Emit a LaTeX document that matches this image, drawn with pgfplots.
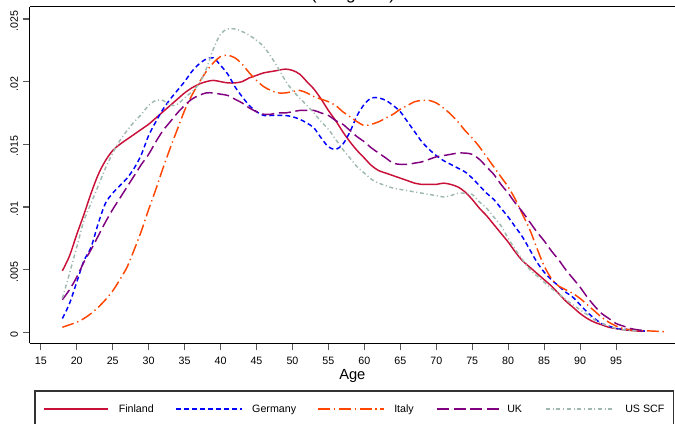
\documentclass[border=0pt]{standalone}
\usepackage{fontspec}
\setmainfont{Liberation Sans}
\usepackage{pgfplots}
\usepackage{pgfplotstable}
\pgfplotsset{compat=1.18}
\definecolor{cFin}{RGB}{200,16,56}
\definecolor{cGer}{RGB}{0,0,255}
\definecolor{cIta}{RGB}{255,69,0}
\definecolor{cUK}{RGB}{128,0,128}
\definecolor{cUS}{RGB}{160,185,175}

\pgfplotstableread{
age val
18 .0049
19 .0061
20 .0078
21 .0094
22 .0111
23 .0126
24 .0137
25 .0145
26 .0150
27 .0154
28 .0158
29 .0162
30 .0166
31 .0171
32 .0176
33 .0181
34 .0186
35 .0191
36 .0195
37 .0198
38 .0200
39 .0201
40 .0200
41 .0199
42 .0199
43 .0200
44 .0203
45 .0205
46 .0207
47 .0208
48 .0209
49 .0210
50 .0209
51 .0206
52 .0200
53 .0194
54 .0186
55 .0177
56 .0169
57 .0160
58 .0152
59 .0145
60 .0139
61 .0133
62 .0129
63 .0127
64 .0125
65 .0123
66 .0121
67 .0119
68 .0118
69 .0118
70 .0118
71 .0119
72 .0118
73 .0116
74 .0112
75 .0106
76 .0099
77 .0093
78 .0086
79 .0079
80 .0072
81 .0064
82 .0057
83 .0052
84 .0047
85 .0042
86 .0037
87 .0031
88 .0025
89 .0020
90 .0015
91 .0011
92 .0008
93 .0006
94 .0004
95 .0003
96 .0002
97 .00015
98 .0001
99 .0001
}\finland

\pgfplotstableread{
age val
18 .0011
19 .0023
20 .0040
21 .0057
22 .0068
23 .0087
24 .0103
25 .0111
26 .0117
27 .0123
28 .0131
29 .0142
30 .0157
31 .0168
32 .0178
33 .0186
34 .0193
35 .0200
36 .0208
37 .0214
38 .0218
39 .0219
40 .0213
41 .0206
42 .0196
43 .0188
44 .0181
45 .0176
46 .0173
47 .0173
48 .0173
49 .0173
50 .0172
51 .0170
52 .0167
53 .0163
54 .0155
55 .0148
56 .0146
57 .0150
58 .0160
59 .0173
60 .0182
61 .0187
62 .0187
63 .0185
64 .0181
65 .0176
66 .0168
67 .0160
68 .0152
69 .0146
70 .0141
71 .0137
72 .0134
73 .0131
74 .0128
75 .0123
76 .0117
77 .0111
78 .0106
79 .0099
80 .0092
81 .0084
82 .0076
83 .0066
84 .0056
85 .0048
86 .0042
87 .0037
88 .0032
89 .0028
90 .0022
91 .0016
92 .0011
93 .0007
94 .0005
95 .0003
96 .00025
97 .0002
98 .00015
99 .0001
}\germany

\pgfplotstableread{
age val
18 .0004
19 .0006
20 .0008
21 .0011
22 .0015
23 .0020
24 .0026
25 .0033
26 .0042
27 .0052
28 .0066
29 .0081
30 .0098
31 .0114
32 .0131
33 .0147
34 .0162
35 .0177
36 .0189
37 .0199
38 .0208
39 .0215
40 .0220
41 .0221
42 .0219
43 .0214
44 .0207
45 .0201
46 .0196
47 .0193
48 .0191
49 .0191
50 .0192
51 .0193
52 .0191
53 .0188
54 .0186
55 .0184
56 .0181
57 .0176
58 .0172
59 .0168
60 .0165
61 .0166
62 .0168
63 .0171
64 .0174
65 .0178
66 .0181
67 .0184
68 .0185
69 .0185
70 .0183
71 .0179
72 .0174
73 .0168
74 .0161
75 .0155
76 .0148
77 .0140
78 .0132
79 .0124
80 .0116
81 .0106
82 .0094
83 .0082
84 .0067
85 .0053
86 .0043
87 .0037
88 .0034
89 .0031
90 .0027
91 .0022
92 .0017
93 .0012
94 .0008
95 .0005
96 .0003
97 .0002
98 .00015
99 .00012
100 .0001
101 .00007
102 .00005
}\italy

\pgfplotstableread{
age val
18 .0026
19 .0034
20 .0044
21 .0056
22 .0066
23 .0077
24 .0088
25 .0098
26 .0107
27 .0116
28 .0125
29 .0134
30 .0142
31 .0152
32 .0161
33 .0168
34 .0175
35 .0181
36 .0186
37 .0189
38 .0191
39 .0191
40 .0190
41 .0189
42 .0186
43 .0183
44 .0179
45 .0176
46 .0174
47 .0174
48 .0175
49 .0175
50 .0176
51 .0177
52 .0177
53 .0177
54 .0175
55 .0173
56 .0169
57 .0166
58 .0161
59 .0156
60 .0152
61 .0147
62 .0143
63 .0139
64 .0135
65 .0134
66 .0134
67 .0135
68 .0136
69 .0138
70 .0140
71 .0141
72 .0142
73 .0143
74 .0143
75 .0142
76 .0138
77 .0132
78 .0126
79 .0118
80 .0111
81 .0103
82 .0096
83 .0088
84 .0080
85 .0073
86 .0065
87 .0058
88 .0050
89 .0043
90 .0036
91 .0028
92 .0021
93 .0015
94 .0011
95 .0007
96 .0005
97 .0003
98 .0002
99 .00013
}\uk

\pgfplotstableread{
age val
18 .0027
19 .0047
20 .0068
21 .0089
22 .0103
23 .0117
24 .0131
25 .0143
26 .0153
27 .0161
28 .0168
29 .0174
30 .0181
31 .0185
32 .0185
33 .0181
34 .0182
35 .0187
36 .0192
37 .0198
38 .0210
39 .0226
40 .0238
41 .0242
42 .0242
43 .0240
44 .0237
45 .0233
46 .0228
47 .0220
48 .0211
49 .0201
50 .0193
51 .0187
52 .0181
53 .0175
54 .0168
55 .0162
56 .0154
57 .0146
58 .0139
59 .0132
60 .0127
61 .0122
62 .0119
63 .0117
64 .0115
65 .0114
66 .0113
67 .0112
68 .0111
69 .0110
70 .0109
71 .0108
72 .0109
73 .0111
74 .0111
75 .0110
76 .0104
77 .0099
78 .0092
79 .0085
80 .0075
81 .0066
82 .0058
83 .0050
84 .0045
85 .0040
86 .0035
87 .0031
88 .0026
89 .0022
90 .0018
91 .0014
92 .0010
93 .0007
94 .0005
95 .0003
96 .0002
97 .00015
98 .0001
}\usscf

\begin{document}
\begin{tikzpicture}
\begin{axis}[
  at={(0,0)}, anchor=south west,
  scale only axis, width=483.975pt, height=252.45pt,
  xmin=13.46, xmax=103.2, ymin=-0.000878, ymax=0.02598,
  axis lines*=left,
  axis line style={line width=0.9pt, black},
  tick align=outside, major tick length=5.25pt,
  every tick/.style={black!65, line width=0.8pt},
  xtick={15,20,...,95},
  ytick={0,0.005,0.01,0.015,0.02,0.025},
  yticklabels={0,.005,.01,.015,.02,.025},
  scaled y ticks=false,
  /pgf/number format/assume math mode=true,
  xticklabel style={font=\fontsize{8}{9}\selectfont, yshift=-1.5pt},
  yticklabel style={font=\fontsize{8}{9}\selectfont, rotate=90, anchor=south, xshift=-1.5pt},
  xlabel={Age},
  xlabel style={font=\fontsize{11}{13}\selectfont, yshift=3.2pt},
  clip=false,
]
\addplot[color=cFin, line width=1.1pt, smooth] table[x=age, y=val] {\finland};
\addplot[color=cGer, line width=1.1pt, smooth, dash pattern=on 3.6pt off 2.4pt] table[x=age, y=val] {\germany};
\addplot[color=cIta, line width=1.1pt, smooth, dash pattern=on 9pt off 2.8pt on 1pt off 2.8pt] table[x=age, y=val] {\italy};
\addplot[color=cUK, line width=1.1pt, smooth, dash pattern=on 9pt off 3.5pt] table[x=age, y=val] {\uk};
\addplot[color=cUS, line width=1.1pt, smooth, dash pattern=on 3pt off 2pt on 0.8pt off 2pt] table[x=age, y=val] {\usscf};
% legend samples (line keys) drawn through the axis
\addplot[color=cFin, line width=1.1pt] coordinates {(15.5,-0.00612) (24.35,-0.00612)};
\addplot[color=cGer, line width=1.1pt, dash pattern=on 3.6pt off 2.4pt] coordinates {(33.8,-0.00612) (43.0,-0.00612)};
\addplot[color=cIta, line width=1.1pt, dash pattern=on 9pt off 2.8pt on 1pt off 2.8pt] coordinates {(53.55,-0.00612) (62.73,-0.00612)};
\addplot[color=cUK, line width=1.1pt, dash pattern=on 9pt off 3.5pt] coordinates {(70.1,-0.00612) (79.0,-0.00612)};
\addplot[color=cUS, line width=1.1pt, dash pattern=on 3pt off 2pt on 0.8pt off 2pt] coordinates {(85.27,-0.00612) (94.45,-0.00612)};
\begin{scope}[every node/.style={anchor=base west, inner sep=0pt, font=\fontsize{8}{9.6}\selectfont}]
\node at (axis cs:25.81,-0.006424) {Finland};
\node at (axis cs:44.37,-0.006424) {Germany};
\node at (axis cs:64.12,-0.006424) {Italy};
\node at (axis cs:79.84,-0.006424) {UK};
\node at (axis cs:96.25,-0.006424) {US SCF};
\end{scope}
\draw[line width=0.9pt, black] (rel axis cs:0,1) -- (rel axis cs:1,1);
\draw[line width=0.8pt, black!80] (rel axis cs:0.0082,-0.1417) rectangle (rel axis cs:0.997,-0.26);
\end{axis}
\node[anchor=base, font=\fontsize{13}{15}\selectfont] at (242.5pt,257.9pt) {(Weighted)};
\pgfresetboundingbox
\useasboundingbox (-22.275pt,-60.525pt) rectangle (483.975pt,257.475pt);
\end{tikzpicture}
\end{document}
